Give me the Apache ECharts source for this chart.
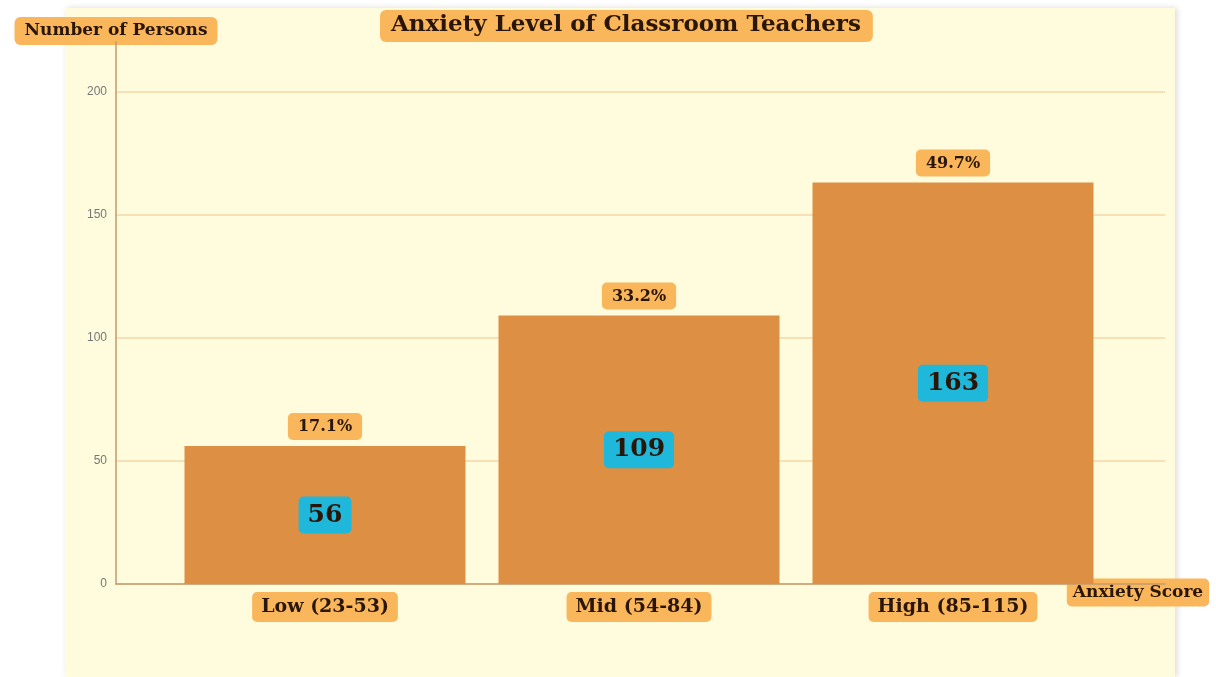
<!DOCTYPE html>
<html>
<head>
<meta charset="utf-8">
<script src="https://cdn.jsdelivr.net/npm/echarts@6/dist/echarts.min.js"></script>
<style>
  html, body { margin: 0; padding: 0; background: #ffffff; }
  #chart { width: 1216px; height: 677px; }
</style>
</head>
<body>
<div id="chart"></div>
<script>
const categories = ['Low (23-53)', 'Mid (54-84)', 'High (85-115)']
const persons = [56, 109, 163]
const percents = ['17.1%', '33.2%', '49.7%']

const SERIF = '"DejaVu Serif", Georgia, serif'
const BOX = '#f9b65b'
const INK = '#2a1608'

const chart = echarts.init(document.getElementById('chart'))

const option = {
  backgroundColor: '#ffffff',
  title: {
    text: 'Anxiety Level of Classroom Teachers',
    left: 380,
    top: 10,
    padding: [4, 12, 5, 11],
    backgroundColor: BOX,
    borderRadius: 6,
    textStyle: {
      fontFamily: SERIF,
      fontWeight: 'bold',
      fontSize: 23,
      color: INK
    }
  },
  graphic: [
    {
      type: 'rect',
      z: -10,
      shape: { x: 65, y: 8, width: 1110, height: 669 },
      style: {
        fill: '#fffbdd',
        shadowBlur: 6,
        shadowColor: 'rgba(0,0,0,0.15)',
        shadowOffsetX: 2
      }
    }
  ],
  grid: [
    { left: 116, right: 51, top: 42, bottom: 93 },
    { left: 168, right: 106, top: 42, bottom: 93 }
  ],
  xAxis: [
    {
      gridIndex: 0,
      type: 'value',
      min: 0,
      max: 1,
      axisLine: { show: true, lineStyle: { color: '#c39a6e', width: 1.5 } },
      axisTick: { show: false },
      axisLabel: { show: false },
      splitLine: { show: false },
      name: '{a|Anxiety Score}',
      nameLocation: 'end',
      nameGap: -27,
      nameTextStyle: {
        align: 'center',
        verticalAlign: 'middle',
        padding: [17, 0, 0, 0],
        rich: {
          a: {
            fontFamily: SERIF,
            fontWeight: 'bold',
            fontSize: 17,
            color: INK,
            backgroundColor: BOX,
            borderRadius: 5,
            padding: [6, 6, 5, 6]
          }
        }
      }
    },
    {
      gridIndex: 1,
      type: 'category',
      data: categories,
      axisLine: { show: false },
      axisTick: { show: false },
      axisLabel: {
        margin: 8,
        fontFamily: SERIF,
        fontWeight: 'bold',
        fontSize: 19,
        color: INK,
        backgroundColor: BOX,
        borderRadius: 5,
        padding: [6, 9, 5, 9]
      }
    }
  ],
  yAxis: [
    {
      gridIndex: 0,
      type: 'value',
      min: 0,
      max: 220,
      interval: 50,
      axisLine: { show: true, lineStyle: { color: '#c39a6e', width: 1.5 } },
      axisTick: { show: false },
      axisLabel: { color: '#777777', fontSize: 12, margin: 9, showMaxLabel: false },
      splitLine: {
        lineStyle: {
          width: 1.5,
          color: ['#f5d7a9', '#f5d7a9', '#f5d7a9', '#f5d7a9', '#f5d7a9', 'rgba(0,0,0,0)']
        }
      },
      name: 'Number of Persons',
      nameLocation: 'end',
      nameGap: 11,
      nameTextStyle: {
        align: 'center',
        verticalAlign: 'middle',
        fontFamily: SERIF,
        fontWeight: 'bold',
        fontSize: 17,
        color: INK,
        backgroundColor: BOX,
        borderRadius: 6,
        padding: [6, 10, 5, 10]
      }
    },
    {
      gridIndex: 1,
      type: 'value',
      min: 0,
      max: 220,
      show: false
    }
  ],
  series: [
    {
      type: 'bar',
      xAxisIndex: 1,
      yAxisIndex: 1,
      data: persons,
      barWidth: 281,
      itemStyle: { color: '#dd8f43' },
      label: {
        show: true,
        position: 'inside',
        fontFamily: SERIF,
        fontWeight: 'bold',
        fontSize: 25,
        color: INK,
        backgroundColor: '#1fb7da',
        borderRadius: 5,
        padding: [6, 9, 6, 9]
      }
    },
    {
      type: 'bar',
      xAxisIndex: 1,
      yAxisIndex: 1,
      data: persons,
      barWidth: 281,
      barGap: '-100%',
      silent: true,
      itemStyle: { color: 'rgba(0,0,0,0)' },
      label: {
        show: true,
        position: 'top',
        distance: 6,
        formatter: (p) => percents[p.dataIndex],
        fontFamily: SERIF,
        fontWeight: 'bold',
        fontSize: 16,
        color: INK,
        backgroundColor: BOX,
        borderRadius: 5,
        padding: [6, 10, 5, 10]
      }
    }
  ]
}

chart.setOption(option)
</script>
</body>
</html>
